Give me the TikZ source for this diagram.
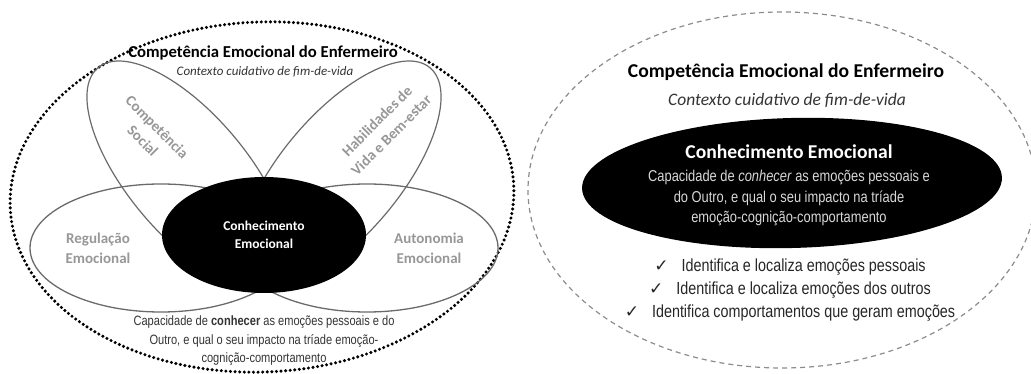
\documentclass[tikz,border=0pt]{standalone}
\usepackage{fontspec}
\setmainfont{Carlito}
\newfontfamily\narrowfont{Liberation Sans}[FakeStretch=0.82]
\newfontfamily\checkfont{DejaVu Sans}
\usetikzlibrary{shapes.geometric}

\definecolor{linegray}{HTML}{6A6A6A}
\definecolor{labelgray}{HTML}{979797}
\definecolor{textgray}{HTML}{333333}
\definecolor{dashgray}{HTML}{8C8C8C}
\definecolor{paletext}{HTML}{D8D8D8}

\newcommand{\okmark}{{\checkfont\fontsize{17}{17}\selectfont ✓}\hspace{13pt}}

\tikzset{
  petal/.style={ellipse, draw=linegray, line width=1.2pt, minimum width=280pt, minimum height=120pt, inner sep=0pt},
  wing/.style={ellipse, draw=linegray, line width=1.3pt, minimum width=262pt, minimum height=128pt, inner sep=0pt},
  core/.style={ellipse, fill=black, inner sep=0pt},
  graylabel/.style={text=labelgray, align=center, font=\bfseries\fontsize{15}{20}\selectfont},
}

\begin{document}
\begin{tikzpicture}[x=1pt, y=1pt]
    \useasboundingbox (0,0) rectangle (1031,374);

    % left panel
    \node[ellipse, draw, line width=3.4pt, dash pattern=on 0pt off 4.6pt, line cap=round,
          minimum width=504pt, minimum height=350pt, rotate=2.5] (outer) at (262,177) {};

    \node[petal, rotate=-50] (social) at (188,199) {};
    \node[petal, rotate=50] (vida) at (340,199) {};
    \node[wing] (regul) at (161,126) {};
    \node[wing] (auton) at (367,126) {};
    \node[core, minimum width=204pt, minimum height=116pt, text=white, align=center,
          font=\bfseries\fontsize{13.5}{18}\selectfont] (conhec) at (264,139) {Conhecimento\\Emocional};

    \node[graylabel] (regtxt) at (98,126) {Regulação\\Emocional};
    \node[graylabel] (auttxt) at (429,126) {Autonomia\\Emocional};
    \node[graylabel, rotate=-45] (soctxt) at (150,240) {Competência\\Social};
    \node[graylabel, rotate=45] (habtxt) at (384,246) {Habilidades de\\Vida e Bem-estar};

    \node[font=\bfseries\fontsize{16.7}{20}\selectfont] (ltitle) at (263,321) {Competência Emocional do Enfermeiro};
    \node[text=textgray, font=\itshape\fontsize{13}{16}\selectfont] (lsub) at (265,302) {Contexto cuidativo de fim-de-vida};

    \node[text=textgray, align=center, font=\narrowfont\fontsize{13.5}{18.5}\selectfont] (ldesc) at (264,33)
        {Capacidade de \textbf{conhecer} as emoções pessoais e do\\Outro, e qual o seu impacto na tríade emoção-\\cognição-comportamento};

    % right panel
    \node[ellipse, draw=dashgray, line width=1.2pt, dash pattern=on 5pt off 4pt,
          minimum width=508pt, minimum height=356pt] (frame) at (782,184) {};

    \node[font=\bfseries\fontsize{19.6}{22}\selectfont] (rtitle) at (786,302) {Competência Emocional do Enfermeiro};
    \node[text=textgray, font=\itshape\fontsize{17.5}{20}\selectfont] (rsub) at (787,274) {Contexto cuidativo de fim-de-vida};

    \node[core, minimum width=420pt, minimum height=130pt, rotate=1.5] (rcore) at (792,191) {};
    \node[text=white, font=\bfseries\fontsize{19.6}{22}\selectfont] (rcoretitle) at (789,222) {Conhecimento Emocional};
    \node[text=paletext, align=center, font=\narrowfont\fontsize{15.7}{20.5}\selectfont] (rcoredesc) at (789,176)
        {Capacidade de \textit{conhecer} as emoções pessoais e\\do Outro, e qual o seu impacto na tríade\\emoção-cognição-comportamento};

    \node[text=black!85, align=center, font=\narrowfont\fontsize{17.5}{23}\selectfont] (checks) at (790,84)
        {\okmark Identifica e localiza emoções pessoais\\
         \okmark Identifica e localiza emoções dos outros\\
         \okmark Identifica comportamentos que geram emoções};

\end{tikzpicture}
\end{document}
